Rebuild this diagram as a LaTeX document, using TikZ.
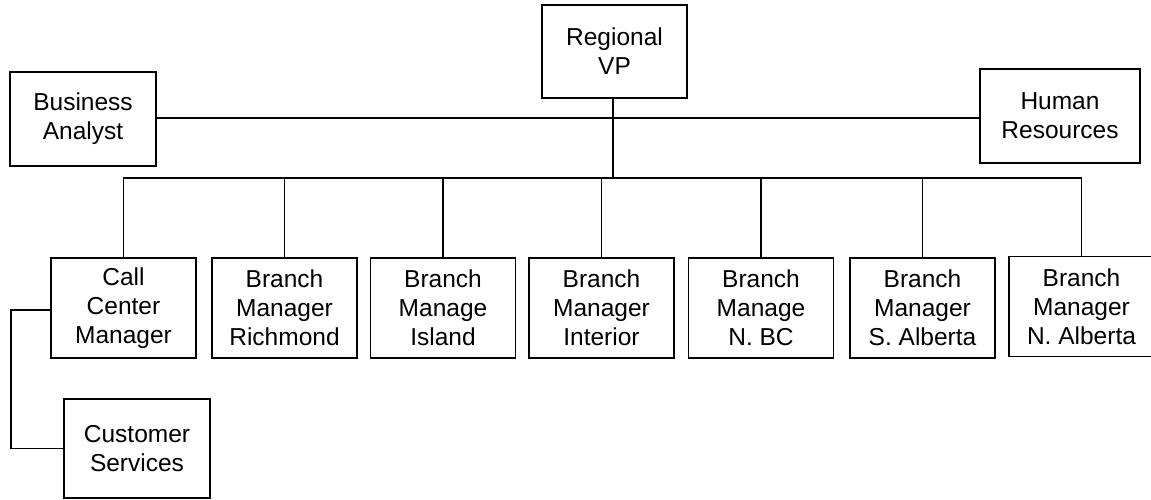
\documentclass[tikz,border=0pt]{standalone}
\usepackage{fontspec}
\setmainfont{Liberation Sans}
\begin{document}
\begin{tikzpicture}[x=1pt,y=-1pt,
  box/.style={draw,line width=1.4pt,rectangle,align=center,inner sep=0pt,
    font=\fontsize{24.5}{29}\selectfont,minimum width=145pt,minimum height=100pt},
  conn/.style={line width=1.4pt}]
\useasboundingbox (0,0) rectangle (1151,500);
\node[box,minimum height=93pt] (vp) at (614.5,51.5) {Regional\\VP};
\node[box,minimum width=146pt,minimum height=94pt] (ba) at (83,119) {Business\\Analyst};
\node[box,minimum width=160pt,minimum height=94pt] (hr) at (1060,116) {Human\\Resources};
\node[box] (call) at (123.5,308) {Call\\Center\\Manager};
\node[box] (rich) at (284.5,308) {Branch\\Manager\\Richmond};
\node[box] (isl) at (443,308) {Branch\\Manage\\Island};
\node[box] (inter) at (601.5,308) {Branch\\Manager\\Interior};
\node[box] (nbc) at (761,308) {Branch\\Manage\\N. BC};
\node[box] (salb) at (922.5,308) {Branch\\Manager\\S. Alberta};
\node[box] (nalb) at (1081.5,306.5) {Branch\\Manager\\N. Alberta};
\node[box,minimum width=146pt,minimum height=99pt] (cust) at (137,448.5) {Customer\\Services};
\coordinate (bar) at (613,178);
\coordinate (side) at (613,118);
\draw[conn] (ba.east |- side) -- (hr.west |- side);
\draw[conn] (vp.south -| bar) -- (bar);
\draw[conn] (call.north) |- (bar) -| (nalb.north);
\foreach \n in {rich,isl,inter,nbc,salb}
  \draw[conn] (\n.north) -- (\n.north |- bar);
\draw[conn] (call.west) ++(0,2) -- ++(-39.5,0) |- (cust.west);
\end{tikzpicture}
\end{document}
